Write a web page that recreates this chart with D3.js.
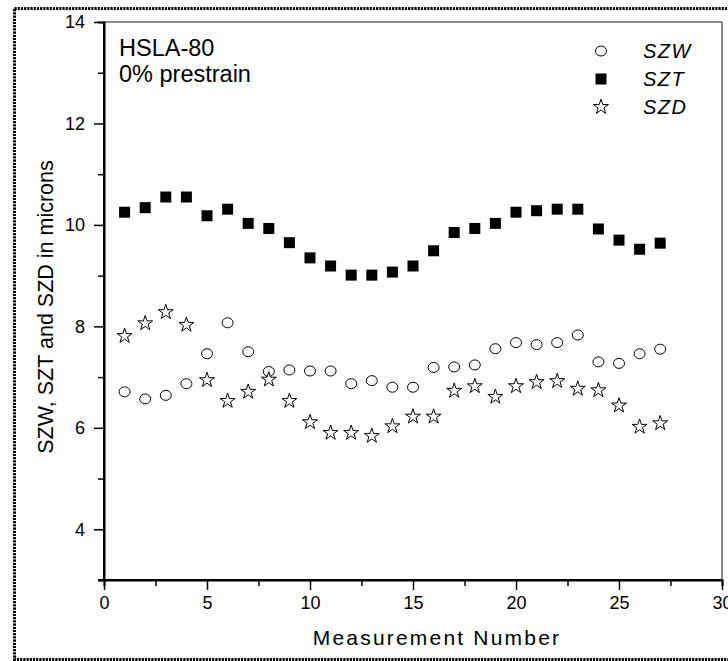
<!DOCTYPE html>
<html><head><meta charset="utf-8">
<script src="https://cdn.jsdelivr.net/npm/d3@7/dist/d3.min.js"></script>
<style>body{margin:0;background:#fff}svg{display:block}</style>
</head><body>
<svg id="c" width="728" height="661"></svg>
<script>
const measurement = d3.range(1, 28);
const szw = [6.71,6.57,6.64,6.87,7.46,8.07,7.50,7.11,7.14,7.12,7.12,6.87,6.93,6.80,6.80,7.19,7.20,7.24,7.56,7.68,7.64,7.68,7.83,7.30,7.27,7.46,7.55];
const szt = [10.25,10.34,10.55,10.55,10.18,10.31,10.03,9.93,9.65,9.35,9.19,9.01,9.01,9.07,9.19,9.49,9.85,9.93,10.03,10.25,10.28,10.31,10.31,9.92,9.70,9.52,9.64];
const szd = [7.81,8.06,8.28,8.03,6.94,6.53,6.71,6.95,6.53,6.11,5.90,5.90,5.84,6.03,6.22,6.22,6.73,6.82,6.61,6.82,6.90,6.92,6.77,6.74,6.44,6.02,6.09];
const xTicks = [0,5,10,15,20,25,30];
const yTicks = [4,6,8,10,12,14];
const seriesNames = ["SZW","SZT","SZD"];

const svg = d3.select("#c");
const font = "Liberation Sans, Arial, sans-serif";
const L=104, R=722, T=22, B=580;
const x = d3.scaleLinear().domain([0,30]).range([L,R]);
const y = d3.scaleLinear().domain([3,14]).range([B,T]);

// outer dotted border (right edge falls outside the picture)
svg.append("rect").attr("x",14.5).attr("y",8.5).attr("width",720).attr("height",651)
  .attr("fill","none").attr("stroke","#000").attr("stroke-width",3).attr("stroke-dasharray","2.2,1");

// frame top/right
svg.append("line").attr("x1",L).attr("x2",R).attr("y1",T).attr("y2",T).attr("stroke","#666").attr("stroke-width",1.5);
svg.append("line").attr("x1",R).attr("x2",R).attr("y1",T).attr("y2",B).attr("stroke","#666").attr("stroke-width",1.5);

// x axis
const gx = svg.append("g").attr("transform",`translate(0,${B})`)
  .call(d3.axisBottom(x).tickValues(xTicks).tickSize(10).tickPadding(6).tickFormat(d3.format("d")));
gx.append("g").call(d3.axisBottom(x).tickValues(d3.range(2.5,30,5)).tickSize(6).tickFormat(""));
// y axis
const gy = svg.append("g").attr("transform",`translate(${L},0)`)
  .call(d3.axisLeft(y).tickValues(yTicks).tickSize(10).tickPadding(9).tickFormat(d3.format("d")));
gy.append("g").call(d3.axisLeft(y).tickValues(d3.range(3,14,2)).tickSize(6).tickFormat(""));
[gx,gy].forEach(g=>{
  g.selectAll(".domain").attr("stroke","#000").attr("stroke-width",2);
  g.selectAll(".tick line").attr("stroke","#000").attr("stroke-width",1.5);
  g.selectAll("text").attr("font-family",font).attr("font-size",18).attr("fill","#000");
});
gx.select(".domain").attr("d",`M${L-6},0H${R}`);
gy.select(".domain").attr("d",`M0,${T}V${B}`);

// titles
svg.append("text").attr("x",437).attr("y",645).attr("text-anchor","middle")
  .attr("font-family",font).attr("font-size",21).attr("letter-spacing",2.2).text("Measurement Number");
svg.append("text").attr("transform",`translate(53,307) rotate(-90)`).attr("text-anchor","middle")
  .attr("font-family",font).attr("font-size",21.5).text("SZW, SZT and SZD in microns");

// annotation
svg.append("text").attr("x",119).attr("y",56).attr("font-family",font).attr("font-size",23.5).text("HSLA-80");
svg.append("text").attr("x",119).attr("y",82).attr("font-family",font).attr("font-size",23.5).text("0% prestrain");

const star = d3.symbol().type(d3.symbolStar).size(70);
function drawSym(g, type, cx, cy){
  if(type==="SZW") g.append("ellipse").attr("cx",cx).attr("cy",cy).attr("rx",5.5).attr("ry",5).attr("fill","#fff").attr("stroke","#000").attr("stroke-width",1);
  else if(type==="SZT") g.append("rect").attr("x",cx-5.5).attr("y",cy-5.5).attr("width",11).attr("height",11).attr("fill","#000");
  else g.append("path").attr("d",star()).attr("transform",`translate(${cx},${cy})`).attr("fill","#fff").attr("stroke","#000").attr("stroke-width",1);
}
const pts = svg.append("g");
const data = {SZW:szw, SZT:szt, SZD:szd};
seriesNames.forEach(n=>{
  data[n].forEach((v,i)=>drawSym(pts,n,x(measurement[i]),y(v)));
});

// legend
const lg = svg.append("g");
seriesNames.forEach((n,i)=>{
  const yy = 51 + i*28;
  drawSym(lg,n,601,yy);
  lg.append("text").attr("x",643).attr("y",yy+6.5).attr("font-family",font).attr("font-size",20)
    .attr("font-style","italic").attr("letter-spacing",1.5).text(n);
});
</script>
</body></html>
